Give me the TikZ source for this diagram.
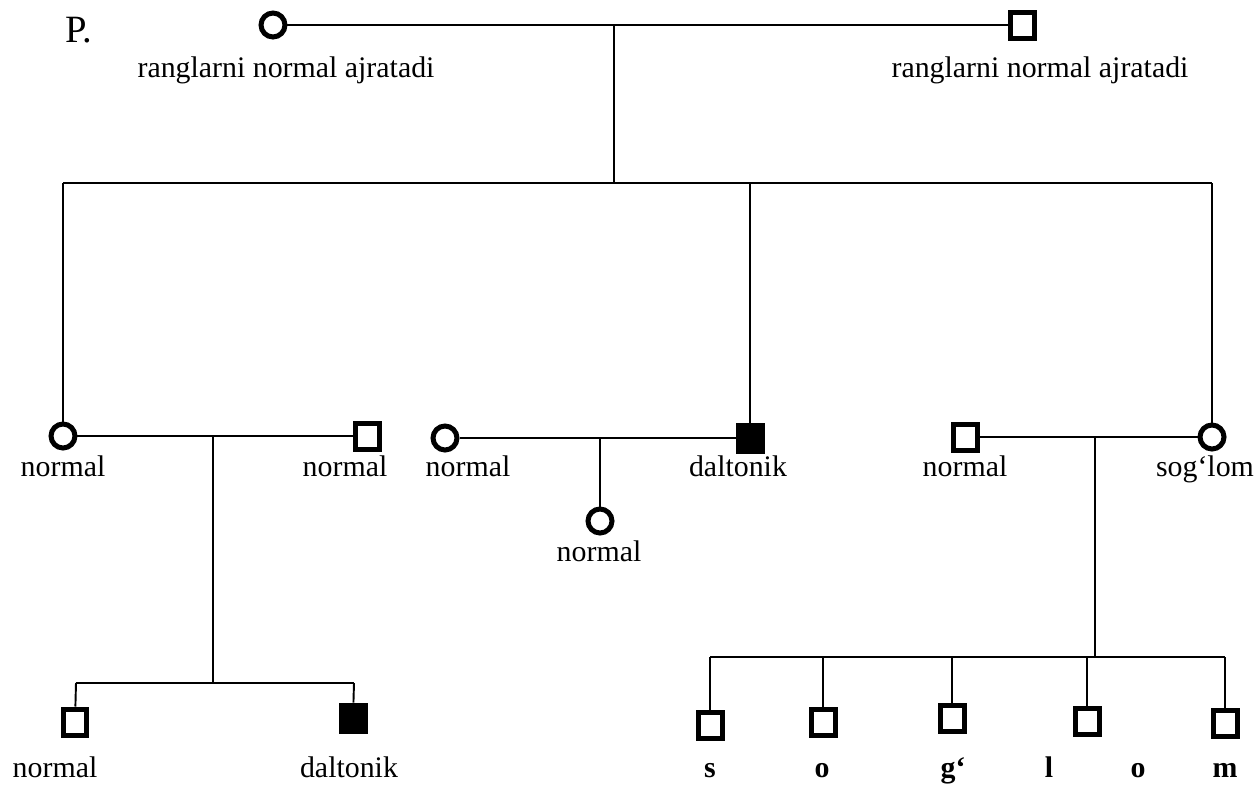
\documentclass[tikz,border=0pt]{standalone}
\usepackage{fontspec}
\setmainfont{Liberation Serif}
\usetikzlibrary{calc}

\begin{document}
\begin{tikzpicture}[x=0.02cm, y=-0.02cm, line width=1.1pt,
    fem/.style={draw, circle, line width=0.1cm, minimum size=0.48cm, inner sep=0pt},
    mal/.style={draw, rectangle, line width=0.1cm, minimum width=0.48cm, minimum height=0.52cm, inner sep=0pt},
    aff/.style={mal, fill=black},
    txt/.style={anchor=base, inner sep=0pt, font=\fontsize{17}{20}\selectfont},
    bold/.style={txt, font=\fontsize{17}{20}\selectfont\bfseries}]
            \useasboundingbox (0,0) rectangle (1255,785);

            % parents
            \node[txt, font=\fontsize{22}{26}\selectfont] (p) at (79,42) {P.};
            \node[fem] (f1) at (273,25) {};
            \node[mal] (m1) at (1022,25) {};
            \node[txt] (lf1) at (286,77) {ranglarni normal ajratadi};
            \node[txt] (lm1) at (1040,77) {ranglarni normal ajratadi};
            \coordinate (c1) at (614,25);
            \coordinate (t1) at (614,183);
            \coordinate (s1) at (63,183);
            \coordinate (s2) at (750,183);
            \coordinate (s3) at (1212,183);

            % second generation
            \node[fem] (f2) at (63,436) {};
            \node[mal] (m2) at (367,436) {};
            \node[fem] (f5) at (445,438) {};
            \node[aff] (a2) at (750,438) {};
            \node[mal] (m3) at (965,437) {};
            \node[fem] (f3) at (1212,437) {};
            \node[txt] (lf2) at (63,476) {normal};
            \node[txt] (lm2) at (345,476) {normal};
            \node[txt] (lf5) at (468,476) {normal};
            \node[txt] (la2) at (738,476) {daltonik};
            \node[txt] (lm3) at (965,476) {normal};
            \node[txt] (lf3) at (1205,476) {sog‘lom};
            \coordinate (c2) at (213,436);
            \coordinate (c3) at (600,438);
            \coordinate (c4) at (1095,437);

            % third generation
            \node[fem] (f6) at (600,521) {};
            \node[txt] (lf6) at (599,561) {normal};
            \node[mal] (m4) at (75,722) {};
            \node[aff] (a4) at (353,718) {};
            \node[txt] (lm4) at (55,777) {normal};
            \node[txt] (la4) at (349,777) {daltonik};
            \coordinate (k0) at (76,683);
            \coordinate (k1) at (213,683);
            \coordinate (k2) at (354,683);
            \coordinate (b0) at (1095,657);
            \foreach \i/\x/\y in {1/710/725, 2/823/722, 3/952/718, 4/1087/721, 5/1225/723} {
                \node[mal] (q\i) at (\x,\y) {};
                \coordinate (b\i) at (\x,657);
                \draw (b\i) -- (q\i);
            }
            \foreach \x/\l in {710/s, 822/o, 953/g‘, 1049/l, 1138/o, 1225/m}
                \node[bold] at (\x,777) {\l};

            \path[draw]
            (f1) edge (m1)
            (c1) edge (t1)
            (s1) edge (s3)
            (s1) edge (f2)
            (s2) edge (a2)
            (s3) edge (f3)
            (f2) edge (m2)
            (f5) edge (a2)
            (m3) edge (f3)
            (c2) edge (k1)
            (k0) edge (k2)
            (k0) edge (m4)
            (k2) edge (a4)
            (c3) edge (f6)
            (c4) edge (b0)
            (b1) edge (b5)
            ;
\end{tikzpicture}
\end{document}
